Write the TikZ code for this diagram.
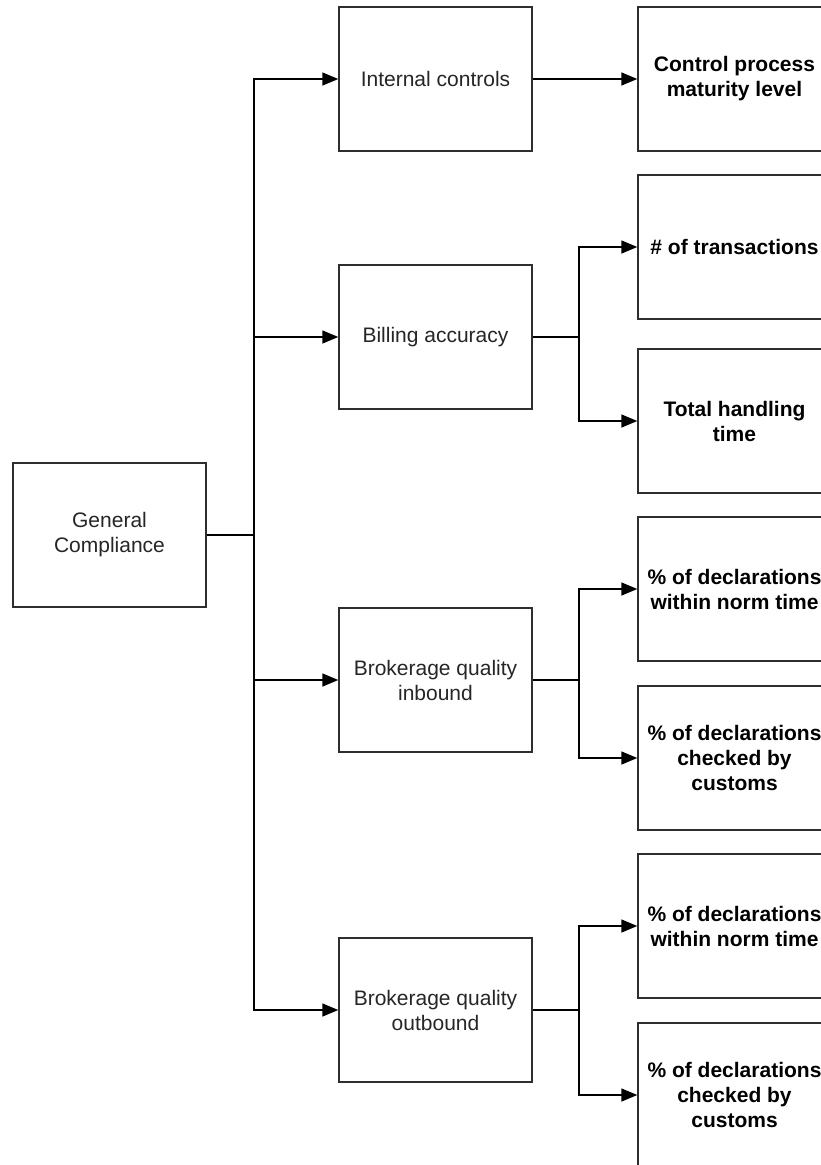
\documentclass[tikz,border=0pt]{standalone}
\usepackage{fontspec}
\setmainfont{Liberation Sans}
\usetikzlibrary{arrows.meta}
\definecolor{edge}{HTML}{2E2E2E}
\definecolor{ink}{HTML}{262626}
\begin{document}
\begin{tikzpicture}[x=1pt,y=-1pt,
  box/.style={draw=edge, line width=1.4pt, fill=white, minimum width=193pt,
    minimum height=144pt, inner sep=0pt, align=center, text=ink,
    font=\fontsize{21}{25}\selectfont},
  kpi/.style={box, font=\fontsize{21}{25}\selectfont\bfseries, text=black},
  link/.style={draw=black, line width=1.4pt},
  arr/.style={link, -{Triangle[length=16pt,width=13pt]}}]
\clip (0,0) rectangle (821,1165);
\fill[white] (0,0) rectangle (821,1165);

% root and second level
\node[box] (gc) at (109.5,535) {General\\Compliance};
\node[box] (ic) at (435.5,79)  {Internal controls};
\node[box] (ba) at (435.5,337) {Billing accuracy};
\node[box] (bi) at (435.5,680) {Brokerage quality\\inbound};
\node[box] (bo) at (435.5,1010) {Brokerage quality\\outbound};

% measures
\node[kpi] (r1) at (734.5,79)   {Control process\\maturity level};
\node[kpi] (r2) at (734.5,247)  {\# of transactions};
\node[kpi] (r3) at (734.5,421)  {Total handling\\time};
\node[kpi] (r4) at (734.5,589)  {\% of declarations\\within norm time};
\node[kpi] (r5) at (734.5,758)  {\% of declarations\\checked by\\customs};
\node[kpi] (r6) at (734.5,926)  {\% of declarations\\within norm time};
\node[kpi] (r7) at (734.5,1095) {\% of declarations\\checked by\\customs};

% trunk from the root
\coordinate (t) at (254,535);
\draw[link] (gc.east) -- (t);
\foreach \n in {ic,ba,bi,bo} \draw[arr] (t) |- (\n.west);

% branches to the measures
\draw[arr] (ic.east) -- (r1.west);
\coordinate (jb) at (579,337);
\coordinate (ji) at (579,680);
\coordinate (jo) at (579,1010);
\draw[link] (ba.east) -- (jb);
\draw[arr] (jb) |- (r2.west);
\draw[arr] (jb) |- (r3.west);
\draw[link] (bi.east) -- (ji);
\draw[arr] (ji) |- (r4.west);
\draw[arr] (ji) |- (r5.west);
\draw[link] (bo.east) -- (jo);
\draw[arr] (jo) |- (r6.west);
\draw[arr] (jo) |- (r7.west);
\end{tikzpicture}
\end{document}
